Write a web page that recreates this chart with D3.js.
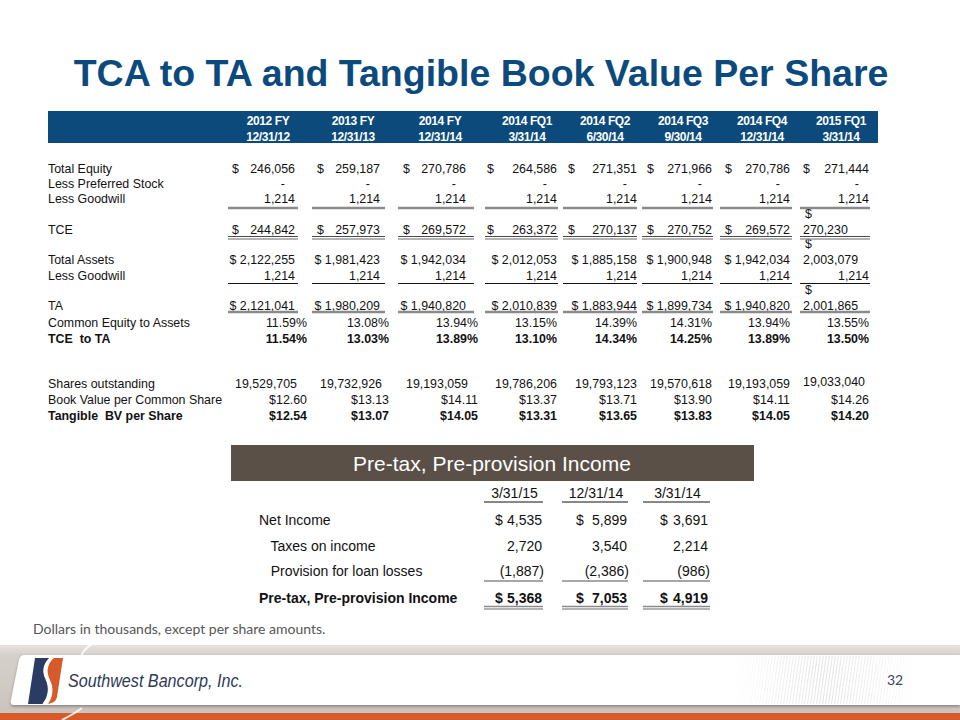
<!DOCTYPE html>
<html>
<head>
<script src="https://d3js.org/d3.v7.min.js"></script>
<style>
  body { margin: 0; background: #fff; }
  text { white-space: pre; }
</style>
</head>
<body>
<script>
var width = 960, height = 720;

// ---- data ----
var periods = ['2012 FY', '2013 FY', '2014 FY', '2014 FQ1', '2014 FQ2', '2014 FQ3', '2014 FQ4', '2015 FQ1'];
var periodDates = ['12/31/12', '12/31/13', '12/31/14', '3/31/14', '6/30/14', '9/30/14', '12/31/14', '3/31/14'];
var totalEquity = [246056, 259187, 270786, 264586, 271351, 271966, 270786, 271444];
var preferredStock = [0, 0, 0, 0, 0, 0, 0, 0];
var goodwill = [1214, 1214, 1214, 1214, 1214, 1214, 1214, 1214];
var tce = [244842, 257973, 269572, 263372, 270137, 270752, 269572, 270230];
var totalAssets = [2122255, 1981423, 1942034, 2012053, 1885158, 1900948, 1942034, 2003079];
var tangibleAssets = [2121041, 1980209, 1940820, 2010839, 1883944, 1899734, 1940820, 2001865];
var equityToAssets = [11.59, 13.08, 13.94, 13.15, 14.39, 14.31, 13.94, 13.55];
var tceToTa = [11.54, 13.03, 13.89, 13.10, 14.34, 14.25, 13.89, 13.50];
var sharesOut = [19529705, 19732926, 19193059, 19786206, 19793123, 19570618, 19193059, 19033040];
var bookValue = [12.60, 13.13, 14.11, 13.37, 13.71, 13.90, 14.11, 14.26];
var tangibleBv = [12.54, 13.07, 14.05, 13.31, 13.65, 13.83, 14.05, 14.20];

var pppDates = ['3/31/15', '12/31/14', '3/31/14'];
var netIncome = [4535, 5899, 3691];
var taxesOnIncome = [2720, 3540, 2214];
var loanProvision = [-1887, -2386, -986];
var pppIncome = [5368, 7053, 4919];

var fmtInt = d3.format(',');
var fmtPct = function(v) { return d3.format('.2f')(v) + '%'; };
var fmtUsd = function(v) { return '$' + d3.format('.2f')(v); };
var fmtParen = function(v) { return v < 0 ? '(' + fmtInt(-v) + ')' : fmtInt(v); };

var svg = d3.select('body').append('svg')
    .attr('width', width)
    .attr('height', height)
    .style('font-family', '"Liberation Sans", Arial, sans-serif');

var defs = svg.append('defs');
var shadow = defs.append('filter').attr('id', 'shadow').attr('x', -0.05).attr('y', -0.3).attr('width', 1.1).attr('height', 1.7);
shadow.append('feDropShadow').attr('dx', 0).attr('dy', 1.5).attr('stdDeviation', 1.5).attr('flood-opacity', 0.35);
var hatch = defs.append('pattern').attr('id', 'hatch').attr('width', 3).attr('height', 6)
    .attr('patternUnits', 'userSpaceOnUse').attr('patternTransform', 'skewX(-8)');
hatch.append('line').attr('x1', 0.5).attr('x2', 0.5).attr('y1', 0).attr('y2', 6)
    .attr('stroke', '#dedede').attr('stroke-width', 0.8);
var fade = defs.append('linearGradient').attr('id', 'fade');
fade.append('stop').attr('offset', 0).attr('stop-color', '#fff').attr('stop-opacity', 1);
fade.append('stop').attr('offset', 0.5).attr('stop-color', '#fff').attr('stop-opacity', 0);
fade.append('stop').attr('offset', 1).attr('stop-color', '#fff').attr('stop-opacity', 1);
var bandGrad = defs.append('linearGradient').attr('id', 'band').attr('x1', 0).attr('x2', 0).attr('y1', 0).attr('y2', 1);
bandGrad.append('stop').attr('offset', 0).attr('stop-color', '#e6e2df');
bandGrad.append('stop').attr('offset', 0.15).attr('stop-color', '#d6d0cb');
bandGrad.append('stop').attr('offset', 1).attr('stop-color', '#cbc4be');

// ---- title ----
svg.append('text')
    .attr('x', 481).attr('y', 86)
    .attr('text-anchor', 'middle')
    .attr('font-size', 37.5).attr('font-weight', 'bold')
    .attr('fill', '#0c4a7e')
    .text('TCA to TA and Tangible Book Value Per Share');

// ---- top table layout ----
var cols = d3.range(periods.length);
var numEnd = d3.scaleOrdinal().domain(cols).range([295, 380, 466, 557, 637, 712, 790, 869]);
var pctEnd = d3.scaleOrdinal().domain(cols).range([307, 389, 478, 557, 637, 712, 790, 869]);
var dollarX = d3.scaleOrdinal().domain(cols).range([232, 317, 403, 487, 568, 647, 725, 803]);
var headX = d3.scaleOrdinal().domain(cols).range([268, 353, 440, 527, 605, 683, 762, 841]);
var lineX0 = d3.scaleOrdinal().domain(cols).range([228, 312, 398, 485, 563, 642, 720, 800]);
var lineX1 = d3.scaleOrdinal().domain(cols).range([298, 385, 474, 558, 637, 713, 792, 870]);

var rowLabels = ['Total Equity', 'Less Preferred Stock', 'Less Goodwill', 'TCE', 'Total Assets', 'Less Goodwill',
  'TA', 'Common Equity to Assets', 'TCE  to TA', 'Shares outstanding', 'Book Value per Common Share', 'Tangible  BV per Share'];
var rows = d3.range(rowLabels.length);
var rowY = d3.scaleOrdinal().domain(rows).range([173, 188, 203, 234, 264, 280, 310, 327, 343, 388, 404, 420]);
var boldRows = [8, 11];
var last = periods.length - 1;

svg.append('rect')
    .attr('x', 48).attr('y', 111).attr('width', 830).attr('height', 32)
    .attr('fill', '#0c4a7b');

var head = svg.append('g')
    .attr('fill', '#fff').attr('font-size', 12).attr('font-weight', 'bold')
    .attr('text-anchor', 'middle').attr('letter-spacing', -0.4);
head.selectAll('text.p').data(periods).join('text')
    .attr('class', 'p')
    .attr('x', function(d, i) { return headX(i); }).attr('y', 125)
    .text(function(d) { return d; });
head.selectAll('text.d').data(periodDates).join('text')
    .attr('class', 'd')
    .attr('x', function(d, i) { return headX(i); }).attr('y', 141)
    .text(function(d) { return d; });

var body = svg.append('g').attr('font-size', 12.4).attr('fill', '#111');

body.selectAll('text.label').data(rowLabels).join('text')
    .attr('class', 'label')
    .attr('x', 48)
    .attr('y', function(d, i) { return rowY(i); })
    .attr('font-weight', function(d, i) { return boldRows.indexOf(i) >= 0 ? 'bold' : null; })
    .text(function(d) { return d; });

// one row of values; opts: dollar (separate $), xEnd scale, wrapLast (last col left-aligned, $ on the line above)
function valueRow(r, vals, fmt, opts) {
  var y = rowY(r);
  var g = body.append('g').attr('font-weight', boldRows.indexOf(r) >= 0 ? 'bold' : null);
  var xEnd = opts.xEnd || numEnd;
  var leftLast = opts.wrapLast || opts.leftLast;
  g.selectAll('text.v').data(vals).join('text')
      .attr('class', 'v')
      .attr('x', function(d, i) { return leftLast && i === last ? dollarX(i) : xEnd(i) + (opts.dx ? opts.dx(i) : 0); })
      .attr('y', function(d, i) { return leftLast && i === last ? y - (opts.lift || 0) : y; })
      .attr('text-anchor', function(d, i) { return leftLast && i === last ? 'start' : 'end'; })
      .text(function(d, i) {
        if (leftLast && i === last) return fmtInt(d);
        return fmt(d);
      });
  var dollars = vals.map(function(d, i) { return i; }).filter(function(i) {
    return opts.dollar || (opts.wrapLast && i === last);
  });
  g.selectAll('text.s').data(dollars).join('text')
      .attr('class', 's')
      .attr('x', function(i) { return dollarX(i) + (opts.wrapLast && i === last ? 2 : 0); })
      .attr('y', function(i) { return opts.wrapLast && i === last ? y - 16 : y; })
      .text('$');
}

function underline(y, stroke, sw, xs0, xs1, idx) {
  svg.append('g').selectAll('line').data(idx).join('line')
      .attr('x1', function(i) { return xs0(i); })
      .attr('x2', function(i) { return xs1(i); })
      .attr('y1', y).attr('y2', y)
      .attr('stroke', stroke).attr('stroke-width', sw);
}

valueRow(0, totalEquity, fmtInt, { dollar: true });
valueRow(1, preferredStock, function() { return '-'; }, { dx: function() { return -10; } });
valueRow(2, goodwill, fmtInt, {});
underline(208, '#8a8a8a', 2.5, lineX0, lineX1, cols);
valueRow(3, tce, fmtInt, { dollar: true, wrapLast: true });
underline(236.5, '#4a4a4a', 1, lineX0, lineX1, cols);
underline(239, '#9a9a9a', 1.5, lineX0, lineX1, cols);
valueRow(4, totalAssets, function(d) { return '$ ' + fmtInt(d); }, { wrapLast: true });
valueRow(5, goodwill, fmtInt, {});
underline(283.5, '#111', 1, lineX0, lineX1, cols);
valueRow(6, tangibleAssets, function(d) { return '$ ' + fmtInt(d); }, { wrapLast: true });
underline(312, '#8a8a8a', 2.5, lineX0, lineX1, cols);
valueRow(7, equityToAssets, fmtPct, { xEnd: pctEnd });
valueRow(8, tceToTa, fmtPct, { xEnd: pctEnd });
valueRow(9, sharesOut, fmtInt, { leftLast: true, lift: 2, dx: function(i) { return i < 3 ? 2 : 0; } });
valueRow(10, bookValue, fmtUsd, { xEnd: pctEnd });
valueRow(11, tangibleBv, fmtUsd, { xEnd: pctEnd });

// ---- pre-tax, pre-provision income ----
svg.append('rect')
    .attr('x', 231).attr('y', 445).attr('width', 523).attr('height', 36)
    .attr('fill', '#5a5048');
svg.append('text')
    .attr('x', 492).attr('y', 471)
    .attr('text-anchor', 'middle')
    .attr('font-size', 21).attr('fill', '#fff')
    .text('Pre-tax, Pre-provision Income');

var pcols = d3.range(pppDates.length);
var pEnd = d3.scaleOrdinal().domain(pcols).range([542, 627, 708]);
var pDollar = d3.scaleOrdinal().domain(pcols).range([495, 576, 660]);
var pLine0 = d3.scaleOrdinal().domain(pcols).range([484, 562, 643]);
var pLine1 = d3.scaleOrdinal().domain(pcols).range([543, 628, 710]);
var pLabels = ['Net Income', '   Taxes on income', '   Provision for loan losses', 'Pre-tax, Pre-provision Income'];
var pRowY = d3.scaleOrdinal().domain(d3.range(4)).range([525, 551, 576, 603]);

var ptab = svg.append('g').attr('font-size', 14).attr('fill', '#111');
ptab.selectAll('text.h').data(pppDates).join('text')
    .attr('class', 'h')
    .attr('x', function(d, i) { return (pLine0(i) + pLine1(i)) / 2 + 1; })
    .attr('y', 498)
    .attr('text-anchor', 'middle')
    .text(function(d) { return d; });
underline(502, '#111', 1, pLine0, pLine1, pcols);

ptab.selectAll('text.l').data(pLabels).join('text')
    .attr('class', 'l')
    .attr('x', 259)
    .attr('y', function(d, i) { return pRowY(i); })
    .attr('font-weight', function(d, i) { return i === 3 ? 'bold' : null; })
    .text(function(d) { return d; });

function pRow(r, vals, fmt, dollar) {
  var g = ptab.append('g').attr('font-weight', r === 3 ? 'bold' : null);
  g.selectAll('text.v').data(vals).join('text')
      .attr('class', 'v')
      .attr('x', function(d, i) { return pEnd(i) + (d < 0 ? 2 : 0); })
      .attr('y', pRowY(r))
      .attr('text-anchor', 'end')
      .text(fmt);
  if (dollar) {
    g.selectAll('text.s').data(vals).join('text')
        .attr('class', 's')
        .attr('x', function(d, i) { return pDollar(i); })
        .attr('y', pRowY(r))
        .text('$');
  }
}
pRow(0, netIncome, fmtInt, true);
pRow(1, taxesOnIncome, fmtInt, false);
pRow(2, loanProvision, fmtParen, false);
underline(581, '#8a8a8a', 1.5, pLine0, pLine1, pcols);
pRow(3, pppIncome, fmtInt, true);
underline(606.5, '#8a8a8a', 1.5, pLine0, pLine1, pcols);
underline(609, '#9a9a9a', 1.5, pLine0, pLine1, pcols);

svg.append('text')
    .attr('x', 33).attr('y', 634)
    .attr('font-family', 'Lato, "Open Sans", sans-serif')
    .attr('font-size', 14).attr('fill', '#555')
    .text('Dollars in thousands, except per share amounts.');

// ---- footer ----
var foot = svg.append('g');
foot.append('rect').attr('x', 0).attr('y', 645).attr('width', width).attr('height', 69).attr('fill', 'url(#band)');
foot.append('rect').attr('x', 0).attr('y', 713).attr('width', width).attr('height', 7).attr('fill', '#d65a2a');
foot.append('path')
    .attr('d', 'M98,641 C84,647 79,656 80,664 M82,708 C74,714 68,717 62,720')
    .attr('fill', 'none').attr('stroke', '#fff').attr('stroke-width', 2).attr('opacity', 0.85);
foot.append('path')
    .attr('d', 'M25,655 L960,655 L960,705 L14,705 Q10,705 11,700 L19,660 Q20,655 25,655 Z')
    .attr('fill', '#fff').attr('filter', 'url(#shadow)');
foot.append('rect').attr('x', 735).attr('y', 656).attr('width', 180).attr('height', 48).attr('fill', 'url(#hatch)');
foot.append('rect').attr('x', 734).attr('y', 656).attr('width', 182).attr('height', 48).attr('fill', 'url(#fade)');

var logo = foot.append('g').attr('transform', 'translate(28,658)');
logo.append('path')
    .attr('d', 'M7,0 L22,0 C16,6 14,13 18,21 C22,29 21,39 15,46 L0,46 Z')
    .attr('fill', '#2b3b62');
logo.append('path')
    .attr('d', 'M26,0 L35,0 L29,39 C28,43 25,45 20,46 C25,39 26,30 22,22 C18,14 19,6 26,0 Z')
    .attr('fill', '#d65a2a');
logo.append('path')
    .attr('d', 'M22,0 C16,6 14,13 18,21 C22,29 21,39 15,46')
    .attr('fill', 'none').attr('stroke', '#fff').attr('stroke-width', 1.2);

foot.append('text')
    .attr('x', 68).attr('y', 687)
    .attr('font-size', 19).attr('font-style', 'italic')
    .attr('fill', '#2e3a5a')
    .attr('textLength', 175).attr('lengthAdjust', 'spacingAndGlyphs')
    .text('Southwest Bancorp, Inc.');
foot.append('text')
    .attr('x', 895).attr('y', 685)
    .attr('text-anchor', 'middle')
    .attr('font-family', 'Lato, sans-serif')
    .attr('font-size', 14).attr('fill', '#3a4660')
    .text('32');
</script>
</body>
</html>
